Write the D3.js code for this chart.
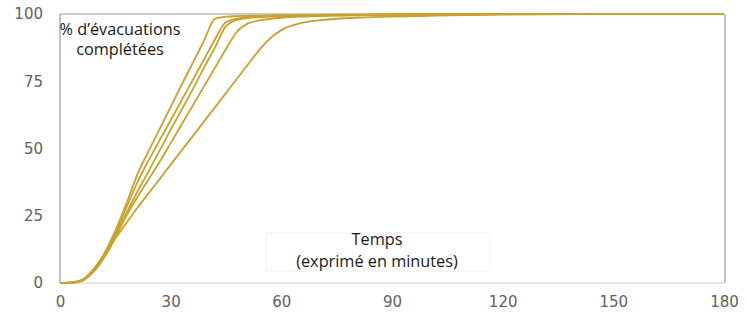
<!DOCTYPE html>
<html><head><meta charset="utf-8">
<script src="https://cdn.jsdelivr.net/npm/d3@7"></script>
<style>body{margin:0;background:#fff;}svg{display:block;}</style>
</head><body><svg id="c" width="747" height="326"></svg>
<script>
const times = [0,3,6,9,12,15,18,21,24,27,30,33,36,39,42,45,48,51,54,57,60,65,70,80,90,120,150,180];
const curveA  = [0,0.2,1.2,5,11,19.5,29.5,40.5,49,57.2,65.5,73.8,81.8,90,98.2,99,99.2,99.3,99.4,99.5,99.5,99.6,99.7,99.8,99.9,100,100,100];
const curveA2 = [0,0.2,1.1,4.8,10.5,18.5,28,37.5,45.5,53,60.5,68,75.5,83,90.5,97,98.3,98.9,99.2,99.3,99.4,99.5,99.6,99.7,99.8,100,100,100];
const curveB  = [0,0.1,1,4.5,10,17.5,26,34,41.5,49.2,57,64.5,72,80,87.5,95.5,97.8,98.5,98.8,99,99.1,99.3,99.4,99.6,99.8,100,100,100];
const curveC  = [0,0.1,0.9,4.3,9.8,17,25,32,38.5,45,52,59,66,73,80,87,93.5,96.5,97.6,98.2,98.6,99,99.2,99.5,99.7,100,100,100];
const curveE  = [0,0.1,0.8,4,9.5,16.5,22.3,28,33.3,38.6,44,49.3,54.6,60,65.3,70.6,76,81.3,86.6,91,94,96.5,97.6,98.6,99,99.8,100,100];
const seriesList = [curveE, curveC, curveB, curveA2, curveA];
const xTicks = [0,30,60,90,120,150,180];
const yTicks = [0,25,50,75,100];
const yTitle = ["% d’évacuations", "complétées"];
const xTitle = ["Temps", "(exprimé en minutes)"];

const svg = d3.select("#c");
const x = d3.scaleLinear().domain([0,180]).range([60,724]);
const y = d3.scaleLinear().domain([0,100]).range([283,14]);
const tickFont = "'DejaVu Sans', sans-serif";

// x-axis title box
svg.append("rect").attr("x",266).attr("y",233).attr("width",224).attr("height",38)
  .attr("fill","#fff").attr("stroke","#f2f2f2").attr("stroke-width",1);

// frame
svg.append("line").attr("x1",x(0)).attr("x2",x(180)).attr("y1",y(0)).attr("y2",y(0))
  .attr("stroke","#e3e3e3").attr("stroke-width",2);
svg.append("line").attr("x1",x(0)).attr("x2",x(180)).attr("y1",y(100)).attr("y2",y(100))
  .attr("stroke","#9a9a9a").attr("stroke-width",1.2);
svg.append("line").attr("x1",x(0)).attr("x2",x(0)).attr("y1",y(0)).attr("y2",y(100))
  .attr("stroke","#9a9a9a").attr("stroke-width",1.2);
svg.append("line").attr("x1",x(180)+1).attr("x2",x(180)+1).attr("y1",y(0)).attr("y2",y(100))
  .attr("stroke","#9a9a9a").attr("stroke-width",1.2);

// axes labels
const xAxis = d3.axisBottom(x).tickValues(xTicks).tickSize(0).tickPadding(13);
const gx = svg.append("g").attr("transform",`translate(0,${y(0)})`).call(xAxis);
gx.select(".domain").remove();
gx.selectAll("text").attr("font-family",tickFont).attr("font-size",15).attr("fill","#5f5f5f");

const yAxis = d3.axisLeft(y).tickValues(yTicks).tickSize(0).tickPadding(17);
const gy = svg.append("g").attr("transform",`translate(${x(0)},0)`).call(yAxis);
gy.select(".domain").remove();
gy.selectAll("text").attr("font-family",tickFont).attr("font-size",15).attr("fill","#5f5f5f");

// lines
const line = d3.line().x((d,i)=>x(times[i])).y(d=>y(d)).curve(d3.curveMonotoneX);
svg.selectAll("path.s").data(seriesList).enter().append("path").attr("class","s")
  .attr("d",line).attr("fill","none").attr("stroke","#c9a22c").attr("stroke-width",1.8);

// titles
const tf = "'Open Sans', sans-serif";
function title(txt, cx, cy){
  svg.append("text").attr("x",cx).attr("y",cy).attr("text-anchor","middle")
    .attr("font-family",tf).attr("font-size",16.3).attr("fill","#1a1a1a")
    .style("font-variant-ligatures","none").text(txt);
}
title(yTitle[0],120,35);
title(yTitle[1],120,55);
title(xTitle[0],377,245);
title(xTitle[1],377,267);
</script></body></html>
